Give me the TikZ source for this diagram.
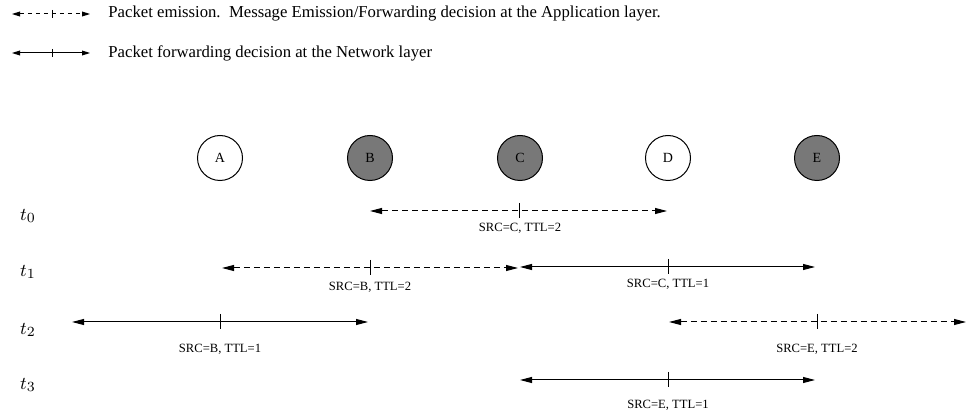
\documentclass[tikz,border=0pt]{standalone}
\usepackage{fontspec}
\setmainfont{Liberation Serif}
\usetikzlibrary{arrows.meta}
\begin{document}
\begin{tikzpicture}[x=0.5pt,y=-0.5pt,
  station/.style={circle,draw=black,line width=0.5pt,minimum size=22.5pt,inner sep=0pt,font=\fontsize{7}{8}\selectfont},
  active/.style={station,fill=black!53},
  emitline/.style={line width=0.5pt,dash pattern=on 3pt off 2pt,{Triangle[length=6pt,width=3pt]}-{Triangle[length=6pt,width=3pt]}},
  fwdline/.style={line width=0.5pt,{Triangle[length=6pt,width=3pt]}-{Triangle[length=6pt,width=3pt]}},
  legemit/.style={line width=0.5pt,dash pattern=on 2pt off 2pt,{Triangle[length=4pt,width=2.4pt]}-{Triangle[length=4pt,width=2.4pt]}},
  legfwd/.style={line width=0.5pt,{Triangle[length=4pt,width=2.4pt]}-{Triangle[length=4pt,width=2.4pt]}},
  tickmark/.style={line width=0.5pt},
  pktlabel/.style={font=\fontsize{6.3}{7}\selectfont,inner sep=0pt},
  legtext/.style={font=\fontsize{8.35}{10}\selectfont,anchor=west,inner sep=0pt},
  timelabel/.style={font=\fontsize{9.5}{11}\selectfont,inner sep=0pt}]
\useasboundingbox (0,0) rectangle (966,417);

% legend
\coordinate (l1a) at (12,14); \coordinate (l1b) at (90,14); \coordinate (l1m) at (52,14);
\draw[legemit] (l1a) -- (l1b);
\draw[tickmark] ([yshift=2pt]l1m) -- ([yshift=-2pt]l1m);
\node[legtext] (lt1) at (108,14) {Packet emission.\ \ Message Emission/Forwarding decision at the Application layer.};
\coordinate (l2a) at (12,53); \coordinate (l2b) at (90,53); \coordinate (l2m) at (52,53);
\draw[legfwd] (l2a) -- (l2b);
\draw[tickmark] ([yshift=2pt]l2m) -- ([yshift=-2pt]l2m);
\node[legtext] (lt2) at (108,53) {Packet forwarding decision at the Network layer};

% stations
\node[station] (A) at (220,158) {A};
\node[active]  (B) at (370,158) {B};
\node[active]  (C) at (520,158) {C};
\node[station] (D) at (668,158) {D};
\node[active]  (E) at (817,158) {E};

% time labels
\node[timelabel] (t0) at (28,216) {$t_0$};
\node[timelabel] (t1) at (28,272) {$t_1$};
\node[timelabel] (t2) at (28,330) {$t_2$};
\node[timelabel] (t3) at (28,385) {$t_3$};

% t0
\coordinate (a0l) at (370,211); \coordinate (a0m) at (519,211); \coordinate (a0r) at (667,211);
\draw[emitline] (a0l) -- (a0r);
\draw[tickmark] ([yshift=4pt]a0m) -- ([yshift=-3.5pt]a0m);
\node[pktlabel] (p0) at (520,228) {SRC=C, TTL=2};

% t1
\coordinate (a1l) at (222,268); \coordinate (a1m) at (370,268); \coordinate (a1r) at (518,268);
\draw[emitline] (a1l) -- (a1r);
\draw[tickmark] ([yshift=4pt]a1m) -- ([yshift=-3.5pt]a1m);
\node[pktlabel] (p1) at (370,287) {SRC=B, TTL=2};
\coordinate (b1l) at (520,267); \coordinate (b1m) at (668,267); \coordinate (b1r) at (815,267);
\draw[fwdline] (b1l) -- (b1r);
\draw[tickmark] ([yshift=4pt]b1m) -- ([yshift=-3.5pt]b1m);
\node[pktlabel] (q1) at (668,284) {SRC=C, TTL=1};

% t2
\coordinate (a2l) at (72,322); \coordinate (a2m) at (220,322); \coordinate (a2r) at (368,322);
\draw[fwdline] (a2l) -- (a2r);
\draw[tickmark] ([yshift=4pt]a2m) -- ([yshift=-3.5pt]a2m);
\node[pktlabel] (p2) at (220,349) {SRC=B, TTL=1};
\coordinate (b2l) at (669,322); \coordinate (b2m) at (817,322); \coordinate (b2r) at (966,322);
\draw[emitline] (b2l) -- (b2r);
\draw[tickmark] ([yshift=4pt]b2m) -- ([yshift=-3.5pt]b2m);
\node[pktlabel] (q2) at (817,349) {SRC=E, TTL=2};

% t3
\coordinate (a3l) at (520,380); \coordinate (a3m) at (668,380); \coordinate (a3r) at (815,380);
\draw[fwdline] (a3l) -- (a3r);
\draw[tickmark] ([yshift=4pt]a3m) -- ([yshift=-3.5pt]a3m);
\node[pktlabel] (p3) at (668,405) {SRC=E, TTL=1};
\end{tikzpicture}
\end{document}
